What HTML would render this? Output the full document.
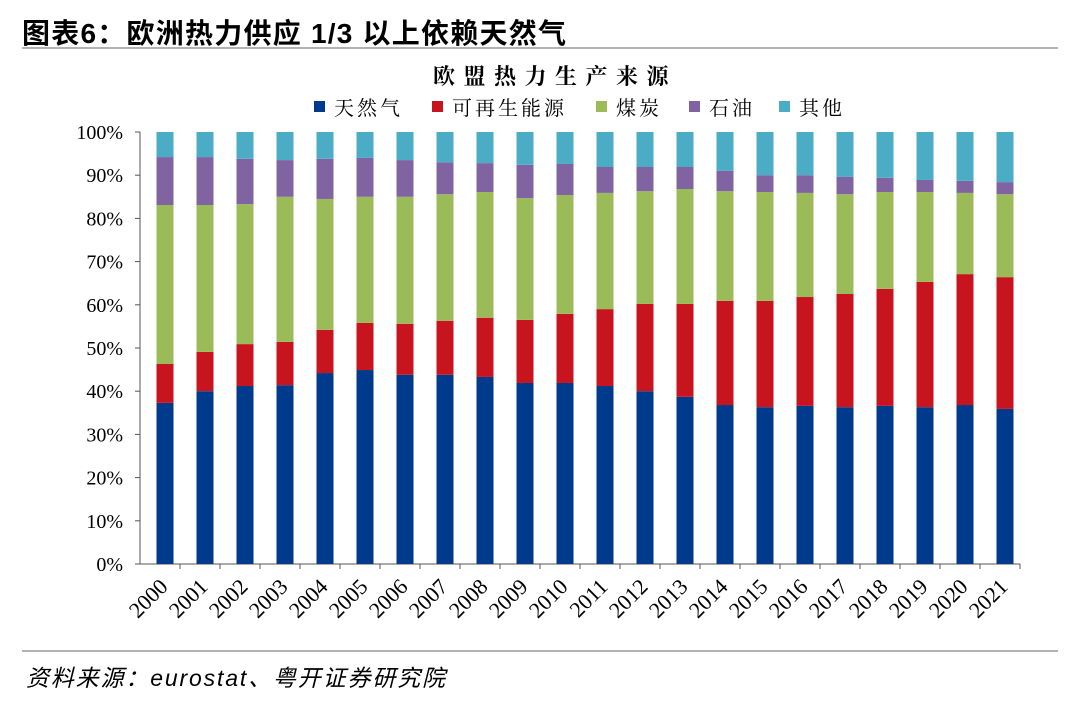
<!DOCTYPE html>
<html><head><meta charset="utf-8">
<style>
body{margin:0;background:#fff;width:1080px;height:706px;overflow:hidden;font-family:"Liberation Sans","Noto Sans CJK SC",sans-serif;}
</style></head>
<body>
<svg width="1080" height="706" xmlns="http://www.w3.org/2000/svg" id="chart">
<text x="22" y="43" font-size="28" font-weight="bold" fill="#000" font-family="Liberation Sans,Noto Sans CJK SC,sans-serif" textLength="544">图表6：欧洲热力供应 1/3 以上依赖天然气</text>
<line x1="22" y1="48" x2="1058" y2="48" stroke="#999" stroke-width="1.5"/>
<text x="433" y="84" font-size="22" font-weight="bold" letter-spacing="8.5" font-family="Noto Serif CJK SC,serif">欧盟热力生产来源</text>
<g id="legend"></g>
<g id="axes"></g>
<g id="bars"></g>
<line x1="22" y1="651" x2="1058" y2="651" stroke="#999" stroke-width="1.5"/>
<text x="26" y="686" font-size="23" font-style="italic" font-family="Liberation Sans,Noto Sans CJK SC,sans-serif" textLength="419">资料来源：eurostat、粤开证券研究院</text>
</svg>
<script>
const years=["2000","2001","2002","2003","2004","2005","2006","2007","2008","2009","2010","2011","2012","2013","2014","2015","2016","2017","2018","2019","2020","2021"];
const seriesNames=["天然气","可再生能源","煤炭","石油","其他"];
const gas=[37.3,40.0,41.2,41.4,44.2,44.9,43.8,43.8,43.3,41.9,41.9,41.2,40.0,38.7,36.8,36.3,36.6,36.3,36.6,36.3,36.8,35.9];
const renew=[9.0,9.1,9.7,10.0,10.0,10.9,11.8,12.5,13.7,14.6,16.0,17.8,20.2,21.5,24.1,24.6,25.2,26.2,27.1,29.0,30.3,30.5];
const coal=[36.8,34.0,32.4,33.6,30.3,29.2,29.4,29.3,29.1,28.2,27.5,26.9,26.1,26.6,25.4,25.2,24.1,23.1,22.4,20.8,18.8,19.2];
const oil=[11.1,11.1,10.5,8.5,9.3,9.0,8.5,7.4,6.7,7.7,7.2,6.0,5.6,5.1,4.7,3.9,4.1,4.0,3.3,2.8,2.8,2.8];
const other=[5.8,5.8,6.2,6.5,6.2,6.0,6.5,7.0,7.2,7.6,7.4,8.1,8.1,8.1,9.0,10.0,10.0,10.4,10.6,11.1,11.3,11.6];
const yTicks=[0,10,20,30,40,50,60,70,80,90,100];
const colors=["#003a8c","#c8141f","#9bbb59","#8064a2","#4bacc6"];
const NS="http://www.w3.org/2000/svg";
const X0=140,X1=1020,Y0=564,Y1=132;
const y=v=>Y0-(v/100)*(Y0-Y1);
const step=(X1-X0)/years.length;
const xc=i=>X0+step*(i+0.5)+5;
function mk(tag,attrs,parent){const e=document.createElementNS(NS,tag);for(const k in attrs)e.setAttribute(k,attrs[k]);parent.appendChild(e);return e;}
const axes=document.getElementById('axes'),bars=document.getElementById('bars'),legend=document.getElementById('legend');
yTicks.forEach(t=>{
 const tx=mk('text',{x:123,y:y(t)+7,'font-size':20,'text-anchor':'end','font-family':'Liberation Serif,serif'},axes);
 tx.textContent=t+'%';
 
 
 mk('line',{x1:X0-5,x2:X0,y1:y(t),y2:y(t),stroke:'#555'},axes);
});
mk('line',{x1:X0,x2:X0,y1:Y1,y2:Y0,stroke:'#555'},axes);
mk('line',{x1:X0,x2:X1,y1:Y0,y2:Y0,stroke:'#555'},axes);
const all=[gas,renew,coal,oil,other];
years.forEach((yr,i)=>{
 let cum=0;
 all.forEach((s,k)=>{
  const r=mk('rect',{x:xc(i)-8.5,width:17,y:y(cum+s[i]),height:y(cum)-y(cum+s[i]),fill:colors[k]},bars);
  
  
  cum+=s[i];
 });
 mk('line',{x1:X0+step*(i+1),x2:X0+step*(i+1),y1:Y0,y2:Y0+5,stroke:'#555'},axes);
 const cx=xc(i)+4,cy=588;
 const t=mk('text',{x:cx,y:cy,'font-size':22,'text-anchor':'end','font-family':'Liberation Serif,serif',transform:`rotate(-45 ${cx} ${cy})`},axes);
 t.textContent=yr;
 
 
});
const lx=[314,432,596,689,779];
seriesNames.forEach((n,k)=>{
 const g=mk('g',{},legend);
 
 
 mk('rect',{x:lx[k],y:101,width:11,height:11,fill:colors[k]},g);
 const t=mk('text',{x:lx[k]+20,y:115,'font-size':20,'font-family':'Noto Serif CJK SC,serif','letter-spacing':'3'},g);
 t.textContent=n;
});
</script>
</body></html>
